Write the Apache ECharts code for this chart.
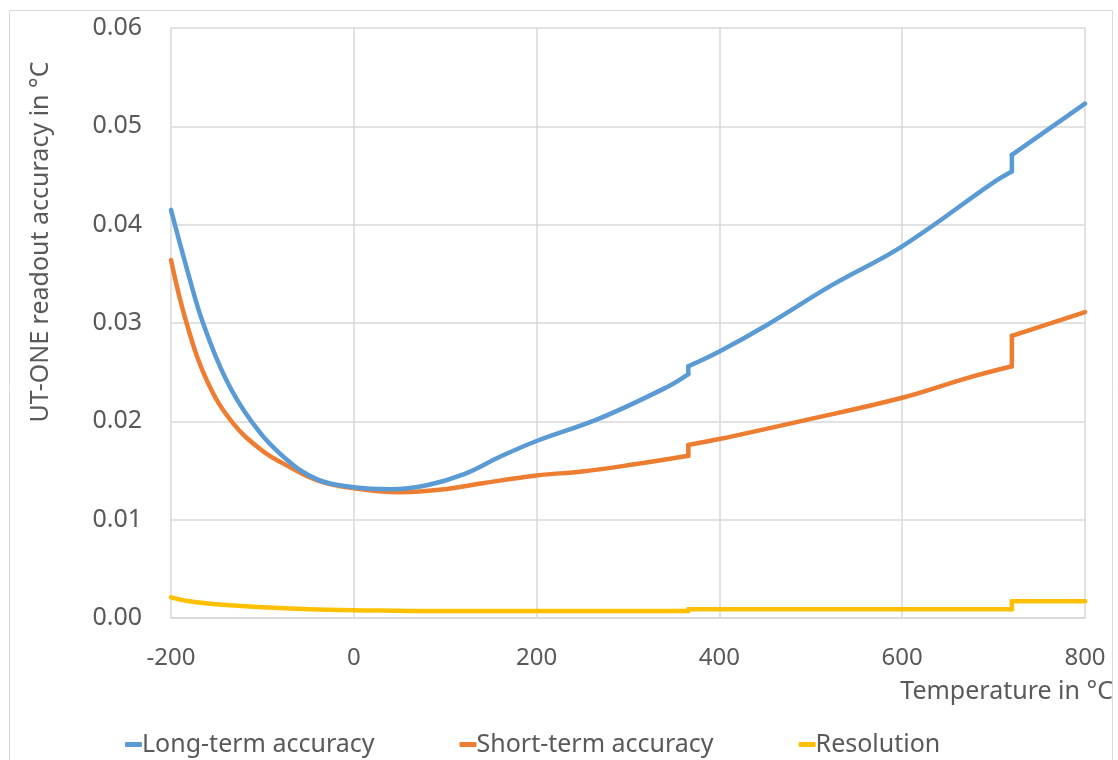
<!DOCTYPE html>
<html><head><meta charset="utf-8">
<script src="https://cdn.jsdelivr.net/npm/echarts@6/dist/echarts.min.js"></script>
<style>html,body{margin:0;padding:0;background:#fff}#c{width:1118px;height:760px}</style>
</head><body><div id="c"></div>
<script>
const seriesNames = ['Long-term accuracy', 'Short-term accuracy', 'Resolution'];
const xTicks = [-200, 0, 200, 400, 600, 800];
const yTicks = [0, 0.01, 0.02, 0.03, 0.04, 0.05, 0.06];
const xTitle = 'Temperature in °C';
const yTitle = 'UT-ONE readout accuracy in °C';

// Repeated x value = vertical step in the curve
const longX = [-200, -182, -165, -140, -112, -77, -40, 0, 40, 80, 120, 160, 200, 269, 343, 366, 366, 400, 452, 524, 600, 700, 720, 720, 800];
const longY = [0.0415, 0.0353, 0.0300, 0.0243, 0.0200, 0.0164, 0.0141, 0.0133, 0.0131, 0.0135, 0.0146, 0.0164, 0.0180, 0.0203, 0.0235, 0.0248, 0.0256, 0.0271, 0.0298, 0.0339, 0.0378, 0.0443, 0.0454, 0.0471, 0.0523];

const shortX = [-200, -183, -160, -132, -100, -77, -40, 0, 50, 100, 141, 200, 250, 305, 366, 366, 400, 488, 600, 671, 720, 720, 800];
const shortY = [0.0364, 0.0300, 0.0240, 0.0198, 0.0170, 0.0157, 0.0140, 0.0132, 0.0128, 0.0131, 0.0137, 0.0145, 0.0149, 0.0156, 0.0165, 0.0176, 0.0182, 0.0200, 0.0224, 0.0244, 0.0256, 0.0287, 0.0311];

const resX = [-200, -180, -150, -100, -50, 0, 100, 200, 366, 366, 500, 600, 720, 720, 800];
const resY = [0.0021, 0.0017, 0.0014, 0.0011, 0.0009, 0.0008, 0.0007, 0.0007, 0.0007, 0.0009, 0.0009, 0.0009, 0.0009, 0.0017, 0.0017];

const colors = ['#5B9BD5', '#ED7D31', '#FFC000'];
const FONT = "'Noto Sans', sans-serif";
const TXT = '#595959';
const GRID = '#D9D9D9';

function buildSeries(name, xs, ys, color, z) {
  const out = [];
  let seg = [[xs[0], ys[0]]];
  const lineStyle = {width: 4.5, color: color, cap: 'round', join: 'round'};
  for (let i = 1; i < xs.length; i++) {
    if (xs[i] === xs[i - 1]) {
      out.push({name, type: 'line', data: seg, smooth: 0.4, symbol: 'none', lineStyle, z});
      out.push({name, type: 'line', data: [[xs[i - 1], ys[i - 1]], [xs[i], ys[i]]], symbol: 'none', lineStyle, z});
      seg = [[xs[i], ys[i]]];
    } else {
      seg.push([xs[i], ys[i]]);
    }
  }
  out.push({name, type: 'line', data: seg, smooth: 0.4, symbol: 'none', lineStyle, z});
  return out;
}

const series = [].concat(
  buildSeries(seriesNames[0], longX, longY, colors[0], 12),
  buildSeries(seriesNames[1], shortX, shortY, colors[1], 11),
  buildSeries(seriesNames[2], resX, resY, colors[2], 10)
);

const chart = echarts.init(document.getElementById('c'), null, {renderer: 'canvas'});
chart.setOption({
  animation: false,
  color: colors,
  graphic: [
    {type: 'rect', left: 7, top: 8, silent: true, z: -10,
     shape: {width: 1103, height: 750},
     style: {fill: 'none', stroke: GRID, lineWidth: 1}},
    {type: 'text', x: 41, y: 242, rotation: Math.PI / 2, silent: true,
     style: {text: yTitle, fontFamily: FONT, fontSize: 25, fill: TXT, textAlign: 'center', textVerticalAlign: 'middle'}},
    {type: 'text', x: 1113, y: 692, silent: true,
     style: {text: xTitle, fontFamily: FONT, fontSize: 25, fill: TXT, textAlign: 'right', textVerticalAlign: 'middle'}}
  ],
  grid: {left: 171, right: 33, top: 28, bottom: 142},
  legend: {
    top: 727, left: 120, itemGap: 85,
    icon: 'roundRect', itemWidth: 17, itemHeight: 5,
    textStyle: {fontFamily: FONT, fontSize: 25, color: TXT, padding: [0, 0, 0, -5]},
    data: seriesNames
  },
  xAxis: {
    type: 'value', min: xTicks[0], max: xTicks[xTicks.length - 1], interval: 200,
    axisLine: {show: true, lineStyle: {color: GRID, width: 1.5}},
    axisTick: {show: false},
    axisLabel: {fontFamily: FONT, fontSize: 24, color: TXT, margin: 40, verticalAlign: 'middle',
      formatter: v => String(v)},
    splitLine: {show: true, lineStyle: {color: GRID, width: 1.5}}
  },
  yAxis: {
    type: 'value', min: yTicks[0], max: yTicks[yTicks.length - 1], interval: 0.01,
    axisLine: {show: false}, axisTick: {show: false},
    axisLabel: {fontFamily: FONT, fontSize: 25, color: TXT, margin: 29,
      formatter: v => v.toFixed(2)},
    splitLine: {show: true, lineStyle: {color: GRID, width: 1.5}}
  },
  series: series
});
</script></body></html>
